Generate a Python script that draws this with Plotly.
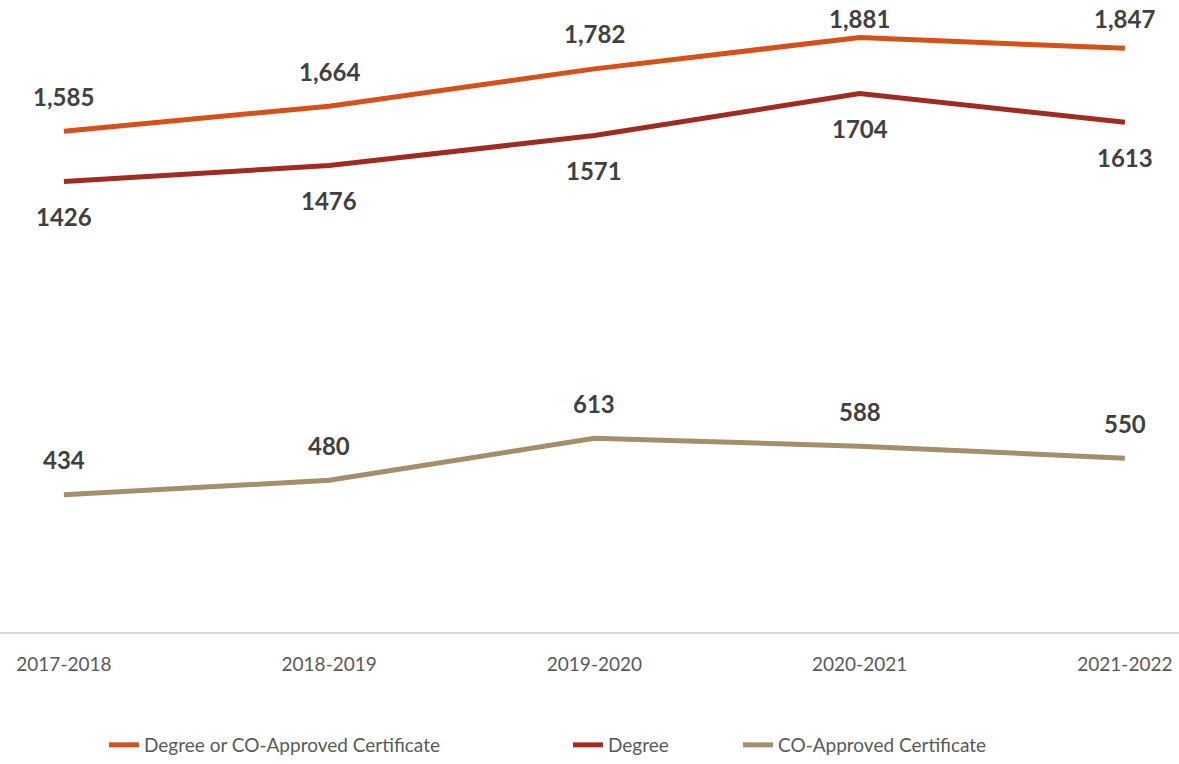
import plotly.graph_objects as go

# Academic years on the category axis
years = ["2017-2018", "2018-2019", "2019-2020", "2020-2021", "2021-2022"]

# Counts per year for each series
degree_or_cert = [1585, 1664, 1782, 1881, 1847]
degree = [1426, 1476, 1571, 1704, 1613]
co_cert = [434, 480, 613, 588, 550]

W, H = 1179, 764
M_B = 131
PLOT_H = H - M_B
Y_MAX = 2000
X_RANGE = [-0.241, 4.204]

FONT = "Lato"
LABEL_COLOR = "#404040"
TICK_COLOR = "#595959"

series = [
    ("Degree or CO-Approved Certificate", degree_or_cert, "#D5501A", "above", True),
    ("Degree", degree, "#A02B20", "below", False),
    ("CO-Approved Certificate", co_cert, "#A58E6A", "above", False),
]

fig = go.Figure()
annotations = []
for i, (name, vals, color, side, commas) in enumerate(series):
    fig.add_trace(go.Scatter(
        x=years, y=vals, mode="lines", name=name,
        line=dict(color=color, width=5),
        legend="legend" if i == 0 else f"legend{i + 1}",
    ))
    for yr, v in zip(years, vals):
        text = f"{v:,}" if commas else f"{v}"
        py = PLOT_H * (1 - v / Y_MAX)  # pixel position of the point
        if side == "above":
            center = max(py - 35, 19)
            shift = py - center
        else:
            shift = -35
        annotations.append(dict(
            x=yr, y=v, xref="x", yref="y", text=text, showarrow=False,
            yshift=shift, xanchor="center", yanchor="middle",
            font=dict(family=FONT, size=24, color=LABEL_COLOR, weight="bold"),
        ))

legend_style = dict(
    orientation="h", yanchor="middle", xanchor="left",
    font=dict(family=FONT, size=19, color=TICK_COLOR),
    bgcolor="rgba(0,0,0,0)", borderwidth=0,
)
leg_y = -(746 - PLOT_H) / PLOT_H

fig.update_layout(
    width=W, height=H,
    margin=dict(l=0, r=0, t=0, b=M_B, pad=0),
    paper_bgcolor="white", plot_bgcolor="white",
    showlegend=True,
    legend=dict(x=104 / W, y=leg_y, **legend_style),
    legend2=dict(x=568 / W, y=leg_y, **legend_style),
    legend3=dict(x=738 / W, y=leg_y, **legend_style),
    annotations=annotations,
    xaxis=dict(
        type="category", range=X_RANGE,
        showgrid=False, zeroline=False,
        showline=True, linecolor="#D9D9D9", linewidth=1.5,
        ticks="", ticklabelstandoff=14,
        tickfont=dict(family=FONT, size=19, color=TICK_COLOR),
        fixedrange=True,
    ),
    yaxis=dict(
        range=[0, Y_MAX], visible=False, showgrid=False, zeroline=False,
        fixedrange=True,
    ),
)

fig.write_html("out.html")
